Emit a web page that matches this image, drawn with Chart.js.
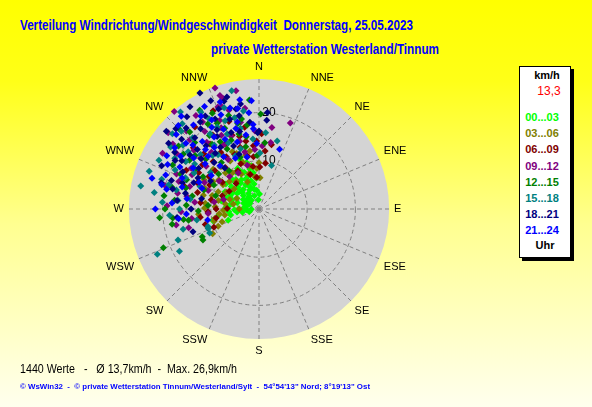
<!DOCTYPE html>
<html>
<head>
<meta charset="utf-8">
<script src="https://cdn.jsdelivr.net/npm/chart.js@4.4.0/dist/chart.umd.min.js"></script>
<style>
html, body { margin: 0; padding: 0; }
body {
  width: 592px; height: 407px; overflow: hidden; position: relative;
  background: linear-gradient(180deg, #ffff00 0%, #ffff18 20%, #ffff90 55%, #ffffee 100%);
  font-family: "Liberation Sans", Arial, sans-serif;
}
.t { position: absolute; white-space: pre; transform-origin: 0 50%; }
#plot { position: absolute; left: 98px; top: 51px; width: 317px; height: 317px; }
#legend {
  position: absolute; left: 519px; top: 66px; width: 50px; height: 190px;
  background: #fff; border: 1px solid #000; box-shadow: 3px 3px 0 #000;
}
#legend div {
  position: absolute; left: 0; width: 50px; text-align: center;
  font-weight: bold; font-size: 11px; line-height: 13px;
}
</style>
</head>
<body>
<div class="t" data-w="393" style="left:20px;top:17px;font:bold 14px/16px 'Liberation Sans',Arial;color:#0000ff">Verteilung Windrichtung/Windgeschwindigkeit  Donnerstag, 25.05.2023</div>
<div class="t" data-w="228" style="left:211px;top:41px;font:bold 14px/16px 'Liberation Sans',Arial;color:#0000ff">private Wetterstation Westerland/Tinnum</div>
<div id="plot"><canvas id="windChart"></canvas></div>
<div id="legend"></div>
<div class="t" id="stats" data-w="217" style="left:20px;top:362px;font:12px/14px 'Liberation Sans',Arial;color:#000"></div>
<div class="t" data-w="350" style="left:20px;top:381px;font:bold 8px/11px 'Liberation Sans',Arial;color:#0000ff">© WsWin32  -  © private Wetterstation Tinnum/Westerland/Sylt  -  54°54'13" Nord; 8°19'13" Ost</div>

<script>
// Skala und Richtungen
const windMax = 27;
const compass = ['N','NNE','NE','ENE','E','ESE','SE','SSE','S','SSW','SW','WSW','W','WNW','NW','NNW'];
const periods = ['00...03','03...06','06...09','09...12','12...15','15...18','18...21','21...24'];
const periodColors = ['#00ff00','#808000','#800000','#800080','#008000','#008080','#000080','#0000ff'];
const currentKmh = '13,3';
const countValues = 1440, avgKmh = '13,7', maxKmh = '26,9';

// [Richtung in Grad, km/h] pro Zeitabschnitt
const h00 = [[355,6.4],[349,5.3],[344,6.1],[339,4.8],[334,4.4],[331,5.7],[326,3.9],[321,5.2],[316,6.2],[311,4.3],
  [306,5.6],[301,3.8],[296,5.1],[291,3.4],[286,4.7],[281,5.6],[276,3.1],[271,4.2],[266,2.6],[259,3.5],
  [254,2.1],[341,2.9],[319,2.4],[299,2.2],[329,7.1],[309,7.4],[294,6.6],[338,8.2],[350,9.1],[339,11.0],
  [2,3.1],[356,1.9],[346,4.2],[324,3.3],[304,2.9],[284,2.6],[269,1.6],[314,3.2],[334,8.6],[301,6.4],
  [289,5.9],[325,6.6],[318,8.1],[256,9.9],[262,8.4],[250,6.8],[265,6.3],[278,6.1],[345,10.0],[332,9.5],
  [342,7.2],[336,6.8],[328,9.0],[322,7.8],[312,5.4],[307,8.6],[297,7.9],[288,7.4],[282,8.0],[273,6.9],
  [268,5.1],[262,4.6],[258,6.0],[351,7.6],[347,8.5],[353,3.9],[335,5.6],[315,4.9]];
const h03 = [[251,8.1],[255,9.6],[242,10.9],[258,9.4],[263,8.3],[266,10.6],[268,7.4],[273,9.1],[276,11.2],[279,7.1],
  [282,8.6],[286,10.1],[288,6.4],[293,9.2],[297,7.6],[301,11.1],[304,9.0],[309,6.6],[313,8.4],[317,10.2],
  [321,7.4],[324,9.3],[329,11.6],[333,8.1],[337,6.1],[341,10.2],[344,7.6],[348,9.1],[353,6.7],[357,8.4],
  [0,9.6],[2,6.5],[270,4.1],[281,5.4],[295,5.1],[311,12.6],[335,13.1],[351,12.2],[291,12.1],[265,12.6],
  [346,11.5],[338,12.4],[326,13.2],[318,11.8],[306,10.3],[298,12.9],[284,11.9],[271,11.3],[260,7.2],[247,9.2]];
const h06 = [[352,8.9],[348,11.2],[354,10.9],[1,8.7],[11,13.6],[6,12.1],[358,14.1],[343,13.4],[338,10.1],[345,15.6],
  [336,12.4],[331,9.1],[326,14.2],[321,11.1],[315,16.2],[311,12.1],[306,9.4],[301,14.6],[296,11.4],[290,8.1],
  [285,13.2],[281,10.1],[276,12.2],[271,6.6],[270,8.9],[267,10.6],[262,12.3],[258,9.1],[254,11.6],[248,10.1],
  [335,22.5],[322,21.6],[328,18.1],[341,19.2],[313,18.6],[298,17.1],[350,17.2],[8,9.6],[356,6.6],[346,7.4],
  [318,7.1],[301,7.2],[340,16.3],[333,15.2],[328,12.8],[323,16.9],[316,13.7],[308,14.9],[303,12.4],[293,13.9],
  [287,16.2],[355,13.2],[2,15.6],[349,14.3]];
const h09 = [[319,26.8],[340,26.7],[349,25.0],[341,24.9],[342,24.1],[338,22.8],[340,22.6],[20,19.0],[9,17.1],[10,14.0],
  [356,12.4],[259,17.5],[262,14.1],[268,16.2],[272,19.1],[276,13.4],[281,17.2],[284,20.1],[288,15.1],[293,18.6],
  [296,12.6],[301,16.4],[304,20.6],[309,14.1],[312,18.2],[317,22.1],[320,15.4],[325,19.6],[328,12.1],[333,17.2],
  [336,20.1],[344,14.6],[348,18.4],[352,21.1],[357,16.2],[3,13.1],[265,10.6],[279,9.4],[290,11.2],[305,10.1],
  [318,9.1],[330,8.6],[345,9.4],[300,23.1],[310,24.6],[326,23.4],[255,15.1],[285,7.6],[303,18.2],[307,22.4],
  [311,16.1],[315,20.3],[322,17.6],[327,21.5],[331,15.2],[335,18.6],[339,16.2],[343,21.4],[297,15.6],[289,17.6],
  [280,15.2],[346,12.2]];
const h12 = [[1,19.7],[349,19.0],[329,23.9],[355,22.7],[5,13.8],[270,19.5],[265,20.7],[248,21.4],[241,13.3],[264,18.0],
  [262,15.8],[261,14.8],[260,18.3],[244,13.1],[268,12.6],[273,15.1],[276,17.6],[281,14.1],[284,18.6],[289,12.1],
  [292,16.2],[297,20.1],[300,13.4],[305,17.6],[308,21.2],[313,15.1],[316,19.2],[321,12.4],[324,16.6],[329,20.6],
  [332,14.1],[337,18.2],[340,11.4],[345,16.1],[348,13.2],[352,17.6],[358,11.1],[274,10.6],[287,9.4],[298,10.6],
  [311,11.1],[322,10.1],[334,22.1],[315,23.6],[302,15.6],[306,19.4],[310,17.3],[318,21.5],[326,18.4],[330,16.1],
  [334,19.8],[338,15.4],[342,20.4],[294,17.8],[286,15.8],[278,19.9],[346,18.3],[350,15.2]];
const h15 = [[347,25.2],[321,25.9],[318,23.8],[311,23.8],[305,22.4],[281,25.0],[279,22.0],[270,16.5],[249,18.0],[242,18.7],
  [246,23.1],[255,16.3],[249,11.3],[244,11.4],[1,11.6],[5,15.9],[15,14.6],[16,9.4],[251,11.2],[260,13.1],
  [266,18.6],[274,20.1],[278,14.4],[283,17.6],[287,21.1],[291,13.1],[295,19.2],[299,15.4],[303,18.1],[307,12.6],
  [313,16.6],[317,20.2],[323,14.1],[327,18.6],[331,21.4],[335,15.1],[339,19.6],[343,13.1],[347,17.2],[351,20.6],
  [355,14.6],[289,24.1],[296,23.1],[310,20.6],[336,12.1],[301,20.4],[305,16.3],[309,18.9],[315,22.8],[319,14.7],
  [325,16.2],[329,23.4],[333,19.1],[337,16.9],[341,22.2],[293,16.6],[285,19.4],[276,16.9],[345,19.6]];
const h18 = [[333,27.0],[342,23.5],[347,21.3],[322,24.3],[330,22.3],[314,24.0],[304,21.1],[285,21.0],[251,14.5],[5,20.1],
  [5,18.5],[0,16.2],[359,15.8],[270,14.1],[276,17.1],[282,15.6],[288,19.1],[292,14.6],[296,17.6],[300,20.1],
  [304,15.1],[308,18.2],[312,21.6],[316,13.4],[320,17.1],[324,20.6],[328,15.1],[332,18.6],[336,24.6],[338,14.1],
  [342,19.6],[346,16.6],[350,22.1],[354,18.1],[326,25.6],[310,25.1],[318,22.6],[294,22.1],[264,17.1],[280,12.1],
  [300,11.6],[320,11.1],[340,12.1],[302,18.9],[306,23.2],[314,17.8],[318,19.9],[322,14.7],[326,21.8],[330,17.4],
  [334,20.8],[338,22.4],[344,24.2],[311,15.9],[297,14.2],[289,16.8],[283,18.4],[340,16.9],[348,19.8]];
const h21 = [[350,23.0],[356,22.5],[344,21.8],[356,17.6],[356,16.7],[19,13.1],[270,21.5],[263,16.8],[258,10.9],[274,18.1],
  [278,15.1],[282,19.6],[286,16.6],[290,20.6],[294,13.6],[298,18.6],[302,16.1],[306,21.6],[310,14.6],[314,19.1],
  [318,16.6],[322,22.1],[326,13.1],[330,19.6],[334,16.1],[338,21.1],[342,14.6],[346,18.6],[350,15.6],[354,20.1],
  [358,13.6],[320,25.1],[332,24.1],[312,23.1],[300,22.1],[286,23.1],[266,15.1],[290,12.6],[305,12.1],[318,12.1],
  [335,11.6],[347,11.1],[304,19.6],[308,17.2],[312,20.4],[316,24.1],[320,18.3],[324,15.8],[328,22.7],[332,20.9],
  [336,18.1],[340,23.6],[344,17.4],[348,21.3],[296,21.1],[292,17.2],[284,20.8],[328,17.6],[316,15.2]];
const groups = [h00, h03, h06, h09, h12, h15, h18, h21];

// Legende
const legend = document.getElementById('legend');
function legendRow(text, top, color, extra) {
  const d = document.createElement('div');
  d.textContent = text;
  d.style.top = top + 'px';
  d.style.color = color;
  if (extra) Object.assign(d.style, extra);
  legend.appendChild(d);
}
legendRow('km/h', 2, '#000', {left: '2px'});
legendRow(currentKmh, 18, '#ff0000', {fontWeight: 'normal', fontSize: '12px', left: '4px'});
periods.forEach((p, i) => legendRow(p, 44 + i * 16.2, periodColors[i], {left: '-3px'}));
legendRow('Uhr', 172, '#000');

document.getElementById('stats').textContent =
  countValues + ' Werte   -   Ø ' + avgKmh + 'km/h  -  Max. ' + maxKmh + 'km/h';

document.querySelectorAll('[data-w]').forEach(el => {
  el.style.transform = 'scaleX(' + (el.dataset.w / el.getBoundingClientRect().width) + ')';
});

// x/y-Achsen an die Polarskala koppeln
const syncPolar = {
  id: 'syncPolar',
  afterLayout(chart) {
    const r = chart.scales.r, x = chart.scales.x, y = chart.scales.y;
    const k = windMax / r.drawingArea;
    x.min = (x.left - r.xCenter) * k; x.max = (x.right - r.xCenter) * k; x.configure();
    y.min = (r.yCenter - y.bottom) * k; y.max = (r.yCenter - y.top) * k; y.configure();
  }
};

const rad = Math.PI / 180;
new Chart(document.getElementById('windChart'), {
  type: 'scatter',
  data: {
    labels: compass,
    datasets: groups.map((g, i) => ({
      label: periods[i],
      data: g.map(([dir, kmh]) => ({x: kmh * Math.sin(dir * rad), y: kmh * Math.cos(dir * rad)})),
      backgroundColor: periodColors[i],
      borderWidth: 0,
      pointStyle: 'rectRot',
      pointRadius: 3.5,
      order: groups.length - i
    }))
  },
  options: {
    responsive: true,
    maintainAspectRatio: false,
    animation: false,
    events: [],
    layout: {padding: 0},
    scales: {
      x: {type: 'linear', display: false},
      y: {type: 'linear', display: false},
      r: {
        type: 'radialLinear',
        min: 0,
        max: windMax,
        startAngle: 0,
        backgroundColor: '#d4d4d4',
        grid: {circular: true, color: '#808080', lineWidth: 1},
        border: {dash: [4, 3]},
        angleLines: {color: '#808080', lineWidth: 1, borderDash: [4, 3]},
        ticks: {
          stepSize: 10, includeBounds: false, showLabelBackdrop: false, backdropPadding: 0,
          color: '#000', font: {family: 'Liberation Sans', size: 12},
          callback: v => '      ' + v
        },
        pointLabels: {color: '#000', padding: -1, font: {family: 'Liberation Sans', size: 11}}
      }
    },
    plugins: {legend: {display: false}, tooltip: {enabled: false}}
  },
  plugins: [syncPolar]
});
</script>
</body>
</html>
